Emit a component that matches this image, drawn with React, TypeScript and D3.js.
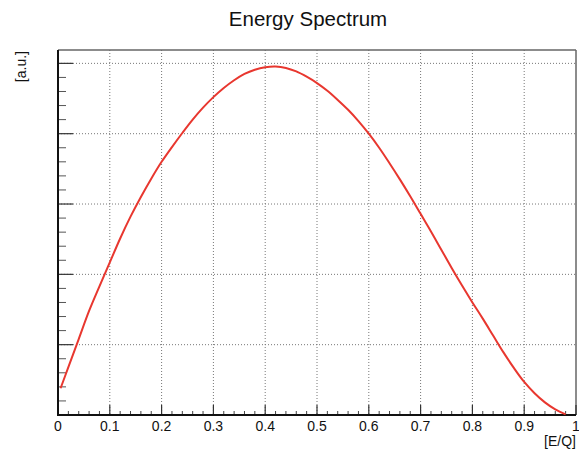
import React from "react";
import * as d3 from "d3";

const xValues = [0.005, 0.02, 0.04, 0.06, 0.08, 0.10, 0.12, 0.14, 0.16, 0.18, 0.20, 0.22, 0.24, 0.26, 0.28, 0.30, 0.32, 0.34, 0.36, 0.38, 0.40, 0.42, 0.44, 0.46, 0.48, 0.50, 0.52, 0.54, 0.56, 0.58, 0.60, 0.62, 0.64, 0.66, 0.68, 0.70, 0.72, 0.74, 0.76, 0.78, 0.80, 0.82, 0.84, 0.86, 0.88, 0.90, 0.92, 0.94, 0.96, 0.98];
const yValues = [0.38, 0.68, 1.08, 1.48, 1.83, 2.17, 2.51, 2.82, 3.10, 3.36, 3.60, 3.81, 4.01, 4.20, 4.37, 4.52, 4.65, 4.76, 4.85, 4.91, 4.945, 4.955, 4.935, 4.885, 4.81, 4.72, 4.61, 4.48, 4.34, 4.18, 4.00, 3.80, 3.58, 3.35, 3.11, 2.86, 2.61, 2.35, 2.09, 1.84, 1.60, 1.37, 1.13, 0.89, 0.67, 0.47, 0.31, 0.18, 0.08, 0.01];
const xTickLabels = ["0", "0.1", "0.2", "0.3", "0.4", "0.5", "0.6", "0.7", "0.8", "0.9", "1"];
const yMajorTicks = [0, 1, 2, 3, 4, 5];
const title = "Energy Spectrum";
const xTitle = "[E/Q]";
const yTitle = "[a.u.]";

const W = 579, H = 457;
const L = 58, R = 576, T = 50, B = 415;

export default function App() {
  const x = d3.scaleLinear().domain([0, 1]).range([L, R]);
  const y = d3.scaleLinear().domain([0, 5.19]).range([B, T]);
  const data = xValues.map((v, i) => [v, yValues[i]] as [number, number]);
  const line = d3.line<[number, number]>().x(d => x(d[0])).y(d => y(d[1])).curve(d3.curveCatmullRom.alpha(0.5));
  const xMajor = d3.range(0, 11).map(i => i / 10);
  const xMinor = d3.range(0, 51).map(i => i / 50).filter((_, i) => i % 5 !== 0);
  const yMinor = d3.range(0, 27).map(i => i * 0.2).filter((v, i) => i % 5 !== 0 && v <= 5.19);
  const font = "Liberation Sans, Arial, Helvetica, sans-serif";
  return (
    <svg width={W} height={H} style={{ position: "absolute", left: 0, top: 0, background: "#fff" }} fontFamily={font}>
      <rect x={0} y={0} width={W} height={H} fill="#fff" />
      <text x={308} y={26} textAnchor="middle" fontSize={20.5} fill="#111">{title}</text>
      {/* grid */}
      {xMajor.filter(v => v > 0 && v < 1).map(v => (
        <line key={"gx" + v} x1={x(v)} x2={x(v)} y1={T} y2={B} stroke="#777" strokeWidth={1} strokeDasharray="1,2" />
      ))}
      {yMajorTicks.filter(v => v > 0).map(v => (
        <line key={"gy" + v} x1={L} x2={R} y1={y(v)} y2={y(v)} stroke="#777" strokeWidth={1} strokeDasharray="1,2" />
      ))}
      {/* frame */}
      <line x1={L} x2={R} y1={T} y2={T} stroke="#666" strokeWidth={1.5} />
      <line x1={R} x2={R} y1={T} y2={B} stroke="#666" strokeWidth={1.5} />
      {/* x ticks */}
      {xMajor.map(v => (
        <line key={"xt" + v} x1={x(v)} x2={x(v)} y1={B} y2={B - 10} stroke="#333" strokeWidth={1.2} />
      ))}
      {xMinor.map(v => (
        <line key={"xm" + v} x1={x(v)} x2={x(v)} y1={B} y2={B - 4} stroke="#444" strokeWidth={1} />
      ))}
      {/* y ticks */}
      {yMajorTicks.map(v => (
        <line key={"yt" + v} x1={L} x2={L + 15} y1={y(v)} y2={y(v)} stroke="#333" strokeWidth={1.2} />
      ))}
      {yMinor.map(v => (
        <line key={"ym" + v} x1={L} x2={L + 8} y1={y(v)} y2={y(v)} stroke="#555" strokeWidth={1} />
      ))}
      {/* axes */}
      <line x1={L} x2={L} y1={T} y2={B + 1} stroke="#111" strokeWidth={2} />
      <line x1={L - 1} x2={R} y1={B} y2={B} stroke="#111" strokeWidth={2} />
      {/* curve */}
      <path d={line(data) || ""} fill="none" stroke="#e8372f" strokeWidth={2} />
      {/* x tick labels */}
      {xMajor.map((v, i) => (
        <text key={"xl" + v} x={x(v)} y={431} textAnchor="middle" fontSize={14} fill="#111">{xTickLabels[i]}</text>
      ))}
      <text x={R} y={446} textAnchor="end" fontSize={14} fill="#111">{xTitle}</text>
      <text transform={`translate(26,51) rotate(-90)`} textAnchor="end" fontSize={14} fill="#111">{yTitle}</text>
    </svg>
  );
}
